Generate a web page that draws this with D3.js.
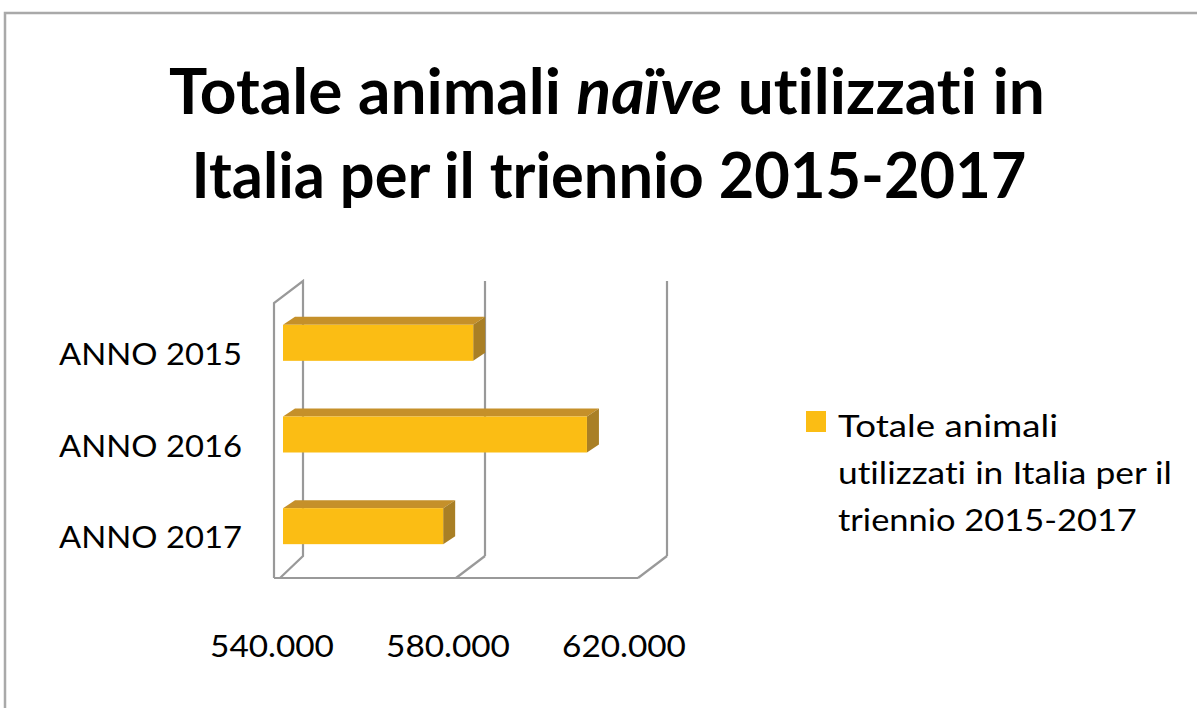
<!DOCTYPE html>
<html>
<head>
<meta charset="utf-8">
<script src="https://cdn.jsdelivr.net/npm/d3@7"></script>
<style>
  body { margin: 0; background: #fff; }
  text { font-family: Lato, "Open Sans", sans-serif; fill: #000; font-variant-ligatures: none; }
</style>
</head>
<body>
<div id="chart"></div>
<script>
// Data
var categories = ["ANNO 2015", "ANNO 2016", "ANNO 2017"];
var values = [581800, 606800, 575200];
var tickValues = [540000, 580000, 620000];
var tickLabels = ["540.000", "580.000", "620.000"];
var legendLines = ["Totale animali", "utilizzati in Italia per il", "triennio 2015-2017"];

var W = 1197, H = 708;

var svg = d3.select("#chart")
  .append("svg")
  .attr("width", W)
  .attr("height", H);

svg.append("rect").attr("width", W).attr("height", H).attr("fill", "#fff");

// outer chart frame (only top and left edges visible)
svg.append("path")
  .attr("d", "M5," + H + "V13H" + W)
  .attr("fill", "none")
  .attr("stroke", "#a9a9a9")
  .attr("stroke-width", 2.5);

// squeeze a text horizontally so it fills a given width
function fit(sel, width) {
  var w = sel.node().getBBox().width;
  var x = +sel.attr("data-x"), y = +sel.attr("data-y");
  sel.attr("transform", "translate(" + x + "," + y + ") scale(" + (width / w) + ",1)");
}

// Title
var t1 = svg.append("text")
  .attr("data-x", 607).attr("data-y", 114)
  .attr("text-anchor", "middle")
  .style("font-size", "64px").style("font-weight", "bold");
t1.append("tspan").text("Totale animali ");
t1.append("tspan").style("font-style", "italic").text("naïve");
t1.append("tspan").text(" utilizzati in");
fit(t1, 876);

var t2 = svg.append("text")
  .attr("data-x", 609).attr("data-y", 198)
  .attr("text-anchor", "middle")
  .style("font-size", "64px").style("font-weight", "bold")
  .text("Italia per il triennio 2015-2017");
fit(t2, 835);

// 3D geometry
var depth = { dx: 29, dy: -22 };
var floorY = 578, wallTop = 303;

// front plane scale
var x = d3.scaleLinear()
  .domain([540000, 620000])
  .range([274, 638]);

// bar front face sits a little behind the front plane
var xb = d3.scaleLinear()
  .domain(x.domain())
  .range([283, 647]);

// tick label scale
var xl = d3.scaleLinear()
  .domain(x.domain())
  .range([272, 624]);

var y = d3.scalePoint()
  .domain(categories)
  .range([297, 572])
  .padding(0.5);

var grid = svg.append("g")
  .attr("fill", "none")
  .attr("stroke", "#999")
  .attr("stroke-width", 2.2);

// left side wall
grid.append("path")
  .attr("d", "M" + x(540000) + "," + floorY +
    "V" + wallTop +
    "L" + (x(540000) + depth.dx) + "," + (wallTop + depth.dy) +
    "V" + (floorY + depth.dy) +
    "L" + (x(540000) + 6) + "," + floorY);

// back wall gridlines
grid.selectAll(".back")
  .data(tickValues.slice(1))
  .enter().append("line")
  .attr("x1", function(d) { return x(d) + depth.dx; })
  .attr("x2", function(d) { return x(d) + depth.dx; })
  .attr("y1", wallTop + depth.dy)
  .attr("y2", floorY + depth.dy);

// floor
grid.append("line")
  .attr("x1", x(540000)).attr("x2", x(620000))
  .attr("y1", floorY).attr("y2", floorY);
grid.selectAll(".floor")
  .data(tickValues.slice(1))
  .enter().append("line")
  .attr("x1", function(d) { return x(d); })
  .attr("x2", function(d) { return x(d) + depth.dx; })
  .attr("y1", floorY)
  .attr("y2", floorY + depth.dy);

// bars
var barH = 36, bdx = 12, bdy = -8;
var bars = svg.selectAll(".bar")
  .data(values)
  .enter().append("g")
  .attr("class", "bar");

// top face
bars.append("path")
  .attr("fill", "#c5902a")
  .attr("d", function(d, i) {
    var x0 = xb(540000), x1 = xb(d), yt = y(categories[i]) - barH / 2;
    return "M" + x0 + "," + yt + "L" + (x0 + bdx) + "," + (yt + bdy) +
      "H" + (x1 + bdx) + "L" + x1 + "," + yt + "Z";
  });

// right side face
bars.append("path")
  .attr("fill", "#a97f25")
  .attr("d", function(d, i) {
    var x1 = xb(d), yt = y(categories[i]) - barH / 2;
    return "M" + x1 + "," + yt + "L" + (x1 + bdx) + "," + (yt + bdy) +
      "V" + (yt + barH + bdy) + "L" + x1 + "," + (yt + barH) + "Z";
  });

// front face
bars.append("rect")
  .attr("fill", "#fbbd14")
  .attr("x", xb(540000))
  .attr("y", function(d, i) { return y(categories[i]) - barH / 2; })
  .attr("width", function(d) { return xb(d) - xb(540000); })
  .attr("height", barH);

// category labels
svg.selectAll(".cat")
  .data(categories)
  .enter().append("text")
  .attr("class", "cat")
  .attr("data-x", 242)
  .attr("data-y", function(d) { return y(d) + 22; })
  .attr("text-anchor", "end")
  .style("font-size", "31px")
  .text(function(d) { return d; })
  .each(function() { fit(d3.select(this), 183); });

// tick labels
svg.selectAll(".tick")
  .data(tickValues)
  .enter().append("text")
  .attr("class", "tick")
  .attr("data-x", function(d) { return xl(d); })
  .attr("data-y", 657)
  .attr("text-anchor", "middle")
  .style("font-size", "31px")
  .text(function(d, i) { return tickLabels[i]; })
  .each(function() { fit(d3.select(this), 124); });

// legend
svg.append("rect")
  .attr("x", 806).attr("y", 411)
  .attr("width", 20).attr("height", 21)
  .attr("fill", "#fbbd14");

var legendWidths = [220, 334, 299];
svg.selectAll(".leg")
  .data(legendLines)
  .enter().append("text")
  .attr("class", "leg")
  .attr("data-x", 838)
  .attr("data-y", function(d, i) { return 437 + i * 47; })
  .style("font-size", "31px")
  .text(function(d) { return d; })
  .each(function(d, i) { fit(d3.select(this), legendWidths[i]); });
</script>
</body>
</html>
